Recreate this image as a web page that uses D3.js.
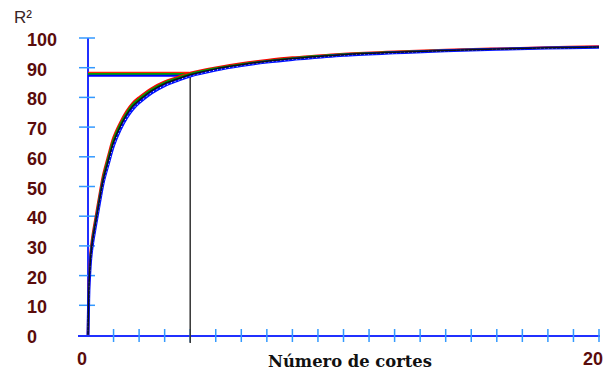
<!DOCTYPE html>
<html>
<head>
<meta charset="utf-8">
<script src="https://cdn.jsdelivr.net/npm/d3@7"></script>
<style>
  body { margin: 0; background: #fff; }
  svg { display: block; }
</style>
</head>
<body>
<div id="chart"></div>
<script>
// valores
var cuts = [0, 0.02, 0.04, 0.07, 0.1, 0.15, 0.2, 0.3, 0.4, 0.5, 0.6, 0.8, 1, 1.25, 1.5, 1.75, 2, 2.5, 3, 3.5, 4, 5, 6, 7, 8, 9, 10, 12, 14, 16, 18, 20];
var redR2 = [0, 11, 18.5, 23.5, 27.5, 31.5, 34.5, 39.5, 44.5, 49.5, 54, 60.5, 66.5, 71.3, 75.2, 78.1, 80.0, 83.1, 85.3, 86.8, 88.2, 90.0, 91.4, 92.5, 93.4, 94.0, 94.6, 95.4, 96.0, 96.4, 96.8, 97.1];
var greenR2 = [0, 10.5, 17.8, 22.8, 26.8, 30.8, 33.8, 38.8, 43.8, 48.8, 53.2, 59.8, 65.8, 70.7, 74.6, 77.6, 79.5, 82.7, 85.0, 86.5, 87.9, 89.8, 91.2, 92.3, 93.2, 93.9, 94.5, 95.3, 95.9, 96.3, 96.7, 97.0];
var blackR2 = [0, 10, 17, 22, 26, 30, 33, 38, 43, 48, 52.5, 59, 65, 70, 74, 77, 79, 82.3, 84.6, 86.2, 87.6, 89.6, 91.0, 92.2, 93.1, 93.8, 94.4, 95.2, 95.8, 96.3, 96.7, 97.0];
var blueR2 = [0, 9, 16, 21, 25, 29, 32, 37, 42, 47, 51.5, 57.8, 63.8, 69, 73, 76, 78.2, 81.6, 84.0, 85.7, 87.2, 89.2, 90.7, 91.9, 92.8, 93.5, 94.2, 95.0, 95.7, 96.2, 96.6, 96.9];

// niveles horizontales y corte marcado
var refLevels = [88.3, 87.9, 87.3];
var refColors = ["#ff2000", "#00a000", "#0000ff"];
var refCut = 4;

var yTicks = [0, 10, 20, 30, 40, 50, 60, 70, 80, 90, 100];
var xLabels = [0, 20];

var width = 611,
    height = 372;

var svg = d3.select("#chart")
  .append("svg")
  .attr("width", width)
  .attr("height", height);

var x = d3.scaleLinear().domain([0, 20]).range([88, 599]);
var y = d3.scaleLinear().domain([0, 100]).range([335, 38]);

var labelFont = "'Liberation Sans', Arial, sans-serif";
var maroon = "#5a0c0c";

// eje Y
svg.append("line")
  .attr("x1", x(0)).attr("x2", x(0))
  .attr("y1", y(100)).attr("y2", y(0) + 1)
  .attr("stroke", "#2030ff").attr("stroke-width", 2);

svg.selectAll(".ytick")
  .data(yTicks.filter(function(d) { return d > 0; }))
  .enter().append("line")
  .attr("class", "ytick")
  .attr("x1", x(0) - 9).attr("x2", x(0) + 7)
  .attr("y1", function(d) { return y(d); })
  .attr("y2", function(d) { return y(d); })
  .attr("stroke", "#3399ff").attr("stroke-width", 1.5);

svg.selectAll(".ylabel")
  .data(yTicks)
  .enter().append("text")
  .attr("class", "ylabel")
  .attr("x", 27)
  .attr("y", function(d) { return y(d) + 8; })
  .attr("font-family", labelFont)
  .attr("font-weight", "bold")
  .attr("font-size", 18)
  .attr("fill", maroon)
  .text(function(d) { return d; });

// eje X
svg.append("line")
  .attr("x1", 78).attr("x2", x(20) + 1)
  .attr("y1", y(0) + 1).attr("y2", y(0) + 1)
  .attr("stroke", "#2030ff").attr("stroke-width", 2);

svg.selectAll(".xtick")
  .data(d3.range(1, 21))
  .enter().append("line")
  .attr("class", "xtick")
  .attr("x1", function(d) { return x(d); })
  .attr("x2", function(d) { return x(d); })
  .attr("y1", y(0) - 6).attr("y2", y(0) + 7)
  .attr("stroke", "#3399ff").attr("stroke-width", 1.5);

svg.selectAll(".xlabel")
  .data(xLabels)
  .enter().append("text")
  .attr("class", "xlabel")
  .attr("x", function(d) { return x(d) - 6; })
  .attr("y", 365)
  .attr("text-anchor", "middle")
  .attr("font-family", labelFont)
  .attr("font-weight", "bold")
  .attr("font-size", 18)
  .attr("fill", maroon)
  .text(function(d) { return d; });

svg.append("text")
  .attr("x", 268).attr("y", 367)
  .attr("font-family", "'DejaVu Serif', serif")
  .attr("font-weight", "bold")
  .attr("font-size", 16)
  .attr("textLength", 164)
  .attr("lengthAdjust", "spacingAndGlyphs")
  .attr("fill", "#111")
  .text("Número de cortes");

svg.append("text")
  .attr("x", 14).attr("y", 23)
  .attr("font-family", labelFont)
  .attr("font-size", 17)
  .attr("fill", "#3a2424")
  .text("R²");

// linea vertical en el corte marcado
svg.append("line")
  .attr("x1", x(refCut)).attr("x2", x(refCut))
  .attr("y1", y(0) + 8).attr("y2", y(87.6))
  .attr("stroke", "#333").attr("stroke-width", 1.5);

// lineas horizontales de referencia
svg.selectAll(".ref")
  .data(refLevels)
  .enter().append("line")
  .attr("class", "ref")
  .attr("x1", x(0)).attr("x2", x(refCut) - 1)
  .attr("y1", function(d) { return y(d); })
  .attr("y2", function(d) { return y(d); })
  .attr("stroke", function(d, i) { return refColors[i]; })
  .attr("stroke-width", 2);

// curvas
var line = d3.line()
  .x(function(d) { return x(d[0]); })
  .y(function(d) { return y(d[1]); })
  .curve(d3.curveCatmullRom.alpha(0.5));

function pairs(vals) {
  return cuts.map(function(c, i) { return [c, vals[i]]; });
}

svg.append("path")
  .attr("d", line(pairs(redR2)))
  .attr("fill", "none").attr("stroke", "#ff0000").attr("stroke-width", 2.5);

svg.append("path")
  .attr("d", line(pairs(greenR2)))
  .attr("fill", "none").attr("stroke", "#00a000").attr("stroke-width", 2);

svg.append("path")
  .attr("d", line(pairs(blueR2)))
  .attr("fill", "none").attr("stroke", "#0010ff").attr("stroke-width", 3);

svg.append("path")
  .attr("d", line(pairs(blueR2)))
  .attr("fill", "none").attr("stroke", "#fff").attr("stroke-width", 1)
  .attr("stroke-dasharray", "1,3");

svg.append("path")
  .attr("d", line(pairs(blackR2)))
  .attr("fill", "none").attr("stroke", "#111").attr("stroke-width", 1.5);
</script>
</body>
</html>
